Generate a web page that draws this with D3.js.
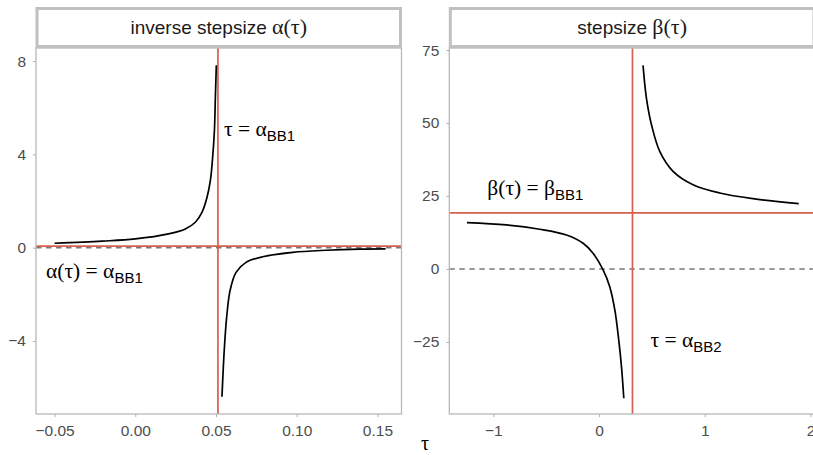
<!DOCTYPE html>
<html lang="en">
<head>
<meta charset="utf-8">
<title>Stepsize</title>
<script src="https://d3js.org/d3.v7.min.js"></script>
<style>
  body { margin: 0; background: #fff; }
  text { font-family: "Liberation Sans", Arial, sans-serif; }
  .greek { font-family: "Liberation Serif", "DejaVu Serif", serif; }
</style>
</head>
<body>
<script>
// ---- data ----
// inverse stepsize alpha(tau): two branches around the pole
var alphaLeftBranch = [
  [-0.050, 0.19], [-0.0206, 0.28], [0.000, 0.375], [0.0206, 0.59], [0.031, 0.80],
  [0.0372, 1.09], [0.0413, 1.51], [0.0444, 2.15], [0.0465, 2.87], [0.0479, 3.86],
  [0.0490, 5.00], [0.0496, 6.42], [0.0502, 7.82]
];
var alphaRightBranch = [
  [0.0537, -6.39], [0.0551, -4.40], [0.0566, -2.98], [0.0587, -1.84], [0.0624, -1.06],
  [0.0686, -0.63], [0.0789, -0.39], [0.0975, -0.20], [0.1182, -0.11], [0.1388, -0.06],
  [0.155, -0.05]
];
// stepsize beta(tau)
var betaLeftBranch = [
  [-1.25, 15.86], [-0.876, 15.07], [-0.561, 13.6], [-0.308, 11.64], [-0.151, 8.8],
  [-0.057, 5.38], [0.038, -0.34], [0.101, -6.06], [0.149, -14.04], [0.186, -24.3],
  [0.212, -33.46], [0.234, -44.3]
];
var betaRightBranch = [
  [0.416, 69.76], [0.448, 58.56], [0.496, 49.42], [0.574, 40.3], [0.700, 33.46],
  [0.889, 28.87], [1.142, 26.03], [1.457, 24.08], [1.889, 22.36]
];
// reference lines
var alphaBB1 = 0.064;      // horizontal level, left panel
var alphaPole = 0.0512;    // vertical tau = alpha_BB1
var betaBB1 = 19.2;        // horizontal level, right panel
var alphaBB2 = 0.316;      // vertical tau = alpha_BB2

var alphaXTicks = [-0.05, 0, 0.05, 0.10, 0.15];
var alphaYTicks = [-4, 0, 4, 8];
var betaXTicks = [-1, 0, 1, 2];
var betaYTicks = [-25, 0, 25, 50, 75];

// ---- layout ----
var W = 813, H = 455;
var red = "#d6604d";
var panelTop = 48, panelBottom = 414;
var svg = d3.select("body").append("svg").attr("width", W).attr("height", H);

var panels = [
  { x0: 36, x1: 401.5, xDom: [-0.0615, 0.1649], yDom: [-7.13, 8.56],
    branches: [alphaLeftBranch, alphaRightBranch], xt: alphaXTicks, yt: alphaYTicks,
    xf: d3.format(".2f"), hLine: alphaBB1, vLine: alphaPole, title: "alpha" },
  { x0: 449.3, x1: 815, xDom: [-1.417, 2.043], yDom: [-49.7, 75.7],
    branches: [betaLeftBranch, betaRightBranch], xt: betaXTicks, yt: betaYTicks,
    xf: d3.format("d"), hLine: betaBB1, vLine: alphaBB2, title: "beta" }
];

panels.forEach(function (p, i) {
  var x = d3.scaleLinear().domain(p.xDom).range([p.x0, p.x1]);
  var y = d3.scaleLinear().domain(p.yDom).range([panelBottom, panelTop]);
  p.x = x; p.y = y;
  var g = svg.append("g");

  g.append("clipPath").attr("id", "clip" + i).append("rect")
    .attr("x", p.x0).attr("y", panelTop).attr("width", p.x1 - p.x0)
    .attr("height", panelBottom - panelTop);

  var inner = g.append("g").attr("clip-path", "url(#clip" + i + ")");

  // zero line
  inner.append("line")
    .attr("x1", p.x0).attr("x2", p.x1).attr("y1", y(0)).attr("y2", y(0))
    .attr("stroke", "#7a7a7a").attr("stroke-width", 1.6).attr("stroke-dasharray", "5.5,4.5");

  // reference lines
  inner.append("line")
    .attr("x1", p.x0).attr("x2", p.x1).attr("y1", y(p.hLine)).attr("y2", y(p.hLine))
    .attr("stroke", red).attr("stroke-width", 1.7);
  inner.append("line")
    .attr("x1", x(p.vLine)).attr("x2", x(p.vLine)).attr("y1", panelTop).attr("y2", panelBottom)
    .attr("stroke", red).attr("stroke-width", 1.7);

  var line = d3.line().x(function (d) { return x(d[0]); })
    .y(function (d) { return y(d[1]); }).curve(d3.curveCatmullRom.alpha(0.5));
  p.branches.forEach(function (b) {
    inner.append("path").datum(b).attr("d", line)
      .attr("fill", "none").attr("stroke", "#000").attr("stroke-width", 1.7);
  });

  // panel border
  g.append("rect").attr("x", p.x0).attr("y", panelTop).attr("width", p.x1 - p.x0)
    .attr("height", panelBottom - panelTop).attr("fill", "none")
    .attr("stroke", "#b8b8b8").attr("stroke-width", 1.3);

  // axes
  var ax = g.append("g").attr("transform", "translate(0," + panelBottom + ")")
    .call(d3.axisBottom(x).tickValues(p.xt).tickFormat(p.xf).tickSize(3).tickPadding(7.5));
  var ay = g.append("g").attr("transform", "translate(" + p.x0 + ",0)")
    .call(d3.axisLeft(y).tickValues(p.yt).tickFormat(d3.format("d")).tickSize(3).tickPadding(7));
  [ax, ay].forEach(function (a) {
    a.select(".domain").remove();
    a.selectAll(".tick line").attr("stroke", "#b0b0b0");
    a.selectAll(".tick text").attr("fill", "#4d4d4d")
      .style("font-size", "15.5px").style("font-family", "'Liberation Sans', Arial, sans-serif");
  });

  // strip
  g.append("rect").attr("x", p.x0 + 1).attr("y", 8.5).attr("width", p.x1 - p.x0 - 2)
    .attr("height", 38).attr("fill", "#fff")
    .attr("stroke", "#c0c0c0").attr("stroke-width", 3);
  var st = g.append("text").attr("x", (p.x0 + Math.min(p.x1, W + 2)) / 2).attr("y", 34)
    .attr("text-anchor", "middle").style("font-size", "19px").attr("fill", "#1a1a1a");
  if (p.title === "alpha") {
    st.append("tspan").text("inverse stepsize ");
    st.append("tspan").attr("class", "greek").style("font-size", "22px").text("\u03b1(\u03c4)");
  } else {
    st.append("tspan").text("stepsize ");
    st.append("tspan").attr("class", "greek").style("font-size", "22px").text("\u03b2(\u03c4)");
  }
});

// annotations: greek part (serif) + subscript (sans)
function label(px, py, greek, sub) {
  var t = svg.append("text").attr("x", px).attr("y", py).attr("fill", "#000");
  t.append("tspan").attr("class", "greek").style("font-size", "21.5px").text(greek);
  t.append("tspan").attr("dy", 4.5).style("font-size", "15px").text(sub);
}
var pa = panels[0], pb = panels[1];
label(pa.x(alphaPole) + 6, 136, "\u03c4 = \u03b1", "BB1");
label(pa.x0 + 10, 278, "\u03b1(\u03c4) = \u03b1", "BB1");
label(pb.x0 + 38, 195, "\u03b2(\u03c4) = \u03b2", "BB1");
label(pb.x(alphaBB2) + 18, 347, "\u03c4 = \u03b1", "BB2");

// shared x-axis title
svg.append("text").attr("class", "greek").attr("x", 425).attr("y", 450)
  .attr("text-anchor", "middle").style("font-size", "20px").text("\u03c4");
</script>
</body>
</html>
